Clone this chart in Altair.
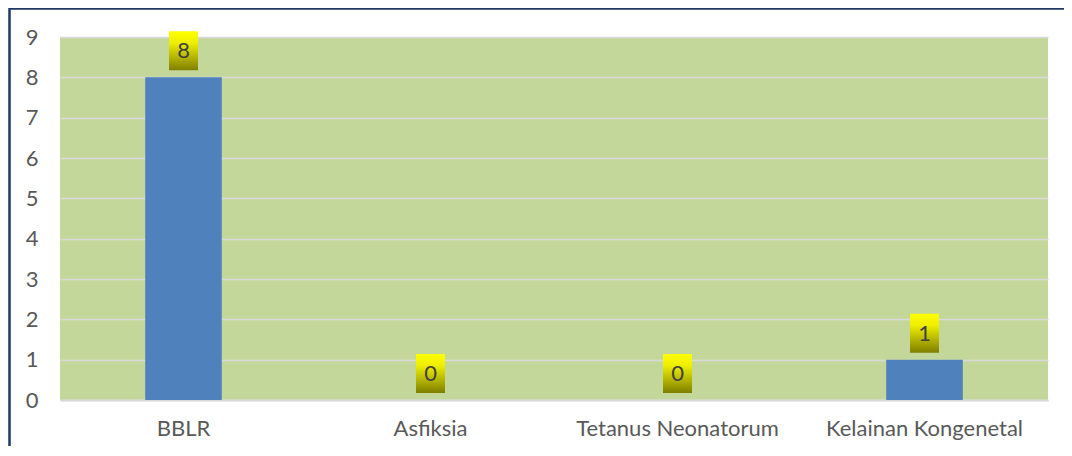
import altair as alt
import pandas as pd

categories = ["BBLR", "Asfiksia", "Tetanus Neonatorum", "Kelainan Kongenetal"]
values = [8, 0, 0, 1]
y_ticks = [0, 1, 2, 3, 4, 5, 6, 7, 8, 9]

df = pd.DataFrame({"kategori": categories, "jumlah": values})

FONT = "Lato"
FS = 22

x_enc = alt.X("kategori:N", sort=categories, title=None,
              scale=alt.Scale(paddingInner=0.69, paddingOuter=0.345),
              axis=alt.Axis(labelAngle=0, labelFontSize=FS, labelColor="#595959",
                            labelFont=FONT, labelPadding=18, ticks=False,
                            labelLimit=400,
                            domain=True, domainColor="#d9d9d9", domainWidth=2,
                            grid=False))
y_scale = alt.Scale(domain=[0, 9], nice=False)

base = alt.Chart(df)

bars = base.mark_bar(color="#4F81BD").encode(
    x=x_enc,
    y=alt.Y("jumlah:Q", scale=y_scale, title=None,
            axis=alt.Axis(values=y_ticks, labelFontSize=FS, labelColor="#595959",
                          labelFont=FONT, labelPadding=22, ticks=False, domain=False,
                          gridColor="#d9d9d9", gridWidth=1.5)),
)

grad = alt.Gradient(
    gradient="linear",
    stops=[alt.GradientStop(color="#ffff00", offset=0),
           alt.GradientStop(color="#eeee00", offset=0.3),
           alt.GradientStop(color="#7f7f00", offset=1)],
    x1=0, x2=0, y1=0, y2=1,
)

boxes = base.mark_bar(fill=grad, size=29, yOffset=-46, y2Offset=-7).encode(
    x=alt.X("kategori:N", sort=categories),
    y=alt.Y("jumlah:Q", scale=y_scale),
    y2="jumlah:Q",
)

labels = base.mark_text(fontSize=FS, color="#404040", font=FONT, dy=-26).encode(
    x=alt.X("kategori:N", sort=categories),
    y=alt.Y("jumlah:Q", scale=y_scale),
    text="jumlah:Q",
)

frame = alt.Chart(pd.DataFrame({"f": [0]})).mark_rect(
    fill=None, stroke="#1F3864", strokeWidth=2.5
).encode(
    x=alt.value(-50.5), x2=alt.value(1100),
    y=alt.value(-28.5), y2=alt.value(600),
)

chart = alt.layer(bars, boxes, labels, frame).properties(
    width=988, height=363,
    background="white",
    autosize=alt.AutoSizeParams(type="none"),
    padding={"left": 52, "top": 29, "right": 16, "bottom": 46},
).configure_view(
    fill="#C4D79B", stroke=None
)

chart.save("out.html", embed_options={"renderer": "svg", "actions": False})
